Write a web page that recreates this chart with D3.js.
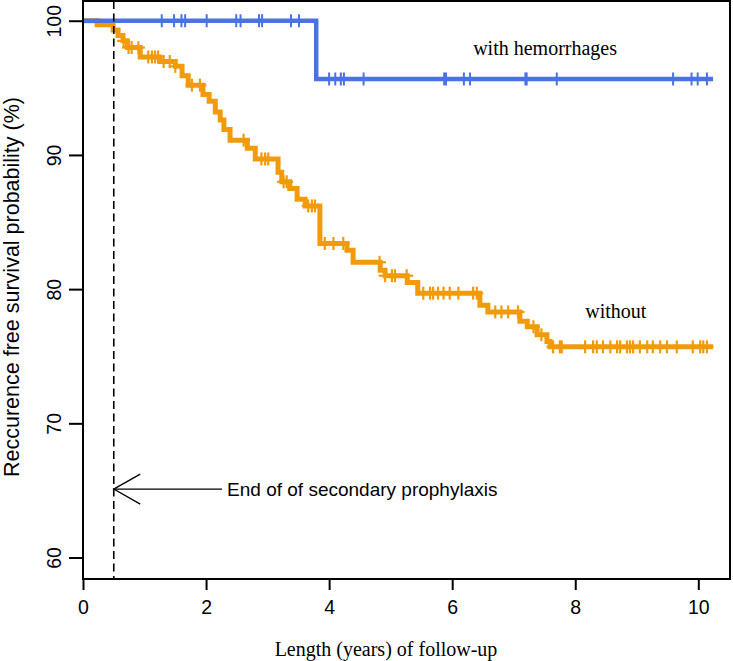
<!DOCTYPE html>
<html>
<head>
<meta charset="utf-8">
<script src="https://cdn.jsdelivr.net/npm/d3@7"></script>
<style>
  html, body { margin: 0; padding: 0; background: #fff; }
  svg { display: block; }
</style>
</head>
<body>
<svg id="chart" width="733" height="661"></svg>
<script>
// ---------- data ----------
const xTicks = [0, 2, 4, 6, 8, 10];
const yTicks = [60, 70, 80, 90, 100];

// "without" group (orange): step start times (years) and survival (%)
const orangeTimes = [0, 0.23, 0.49, 0.57, 0.65, 0.72, 0.93, 1.25, 1.50, 1.61, 1.71, 1.95, 2.05, 2.15, 2.23, 2.29, 2.39, 2.67, 2.80, 3.17, 3.23, 3.36, 3.48, 3.61, 3.85, 4.29, 4.39, 4.83, 4.91, 5.27, 5.44, 6.45, 6.58, 7.10, 7.22, 7.38, 7.54, 7.59, 10.24];
const orangeSurv  = [100, 99.7, 99.3, 98.9, 98.5, 98.0, 97.3, 96.96, 96.6, 95.9, 95.2, 94.5, 94.0, 93.2, 92.6, 91.9, 91.1, 90.5, 89.7, 88.7, 88.0, 87.5, 86.7, 86.2, 83.4, 82.9, 82.0, 81.4, 81.0, 80.5, 79.7, 78.8, 78.3, 77.6, 77.2, 76.6, 76.1, 75.7, 75.7];
const orangeCensor = [0.66, 0.74, 0.79, 0.90, 1.06, 1.12, 1.17, 1.22, 1.31, 1.41, 1.50, 1.77, 1.90, 2.61, 2.90, 2.96, 3.01, 3.26, 3.31, 3.66, 3.72, 3.77, 3.93, 4.07, 4.23, 4.82, 4.91, 5.02, 5.07, 5.26, 5.53, 5.64, 5.69, 5.77, 5.86, 5.96, 6.10, 6.34, 6.40, 6.70, 6.80, 6.91, 7.07, 7.32, 7.45, 7.64, 7.75, 7.78, 8.16, 8.29, 8.35, 8.45, 8.57, 8.68, 8.73, 8.84, 8.89, 8.94, 9.05, 9.17, 9.26, 9.38, 9.49, 9.65, 9.91, 10.03, 10.08, 10.14];

// "with hemorrhages" group (blue)
const blueTimes = [0, 3.79, 10.24];
const blueSurv  = [100, 95.66, 95.66];
const blueCensor = [1.28, 1.48, 1.60, 1.66, 2.01, 2.49, 2.56, 2.86, 2.91, 3.38, 3.51, 4.00, 4.10, 4.19, 4.24, 4.56, 5.87, 5.90, 6.19, 6.29, 7.19, 7.21, 7.70, 9.59, 9.89, 9.99, 10.14];

// annotation (data coordinates)
const prophylaxisEnd = 0.5;
const arrowY = 65.1;
const arrowTail = 2.26;
const labels = [
  { text: "with hemorrhages", x: 7.51, y: 97.45 },
  { text: "without", x: 8.66, y: 77.85 }
];

// ---------- layout ----------
const svg = d3.select("#chart");
const pLeft = 83, pRight = 730, pTop = 1, pBottom = 579;
const x = d3.scaleLinear().domain([0, 10.515]).range([pLeft, pRight]);
const y = d3.scaleLinear().domain([58.4, 101.47]).range([pBottom, pTop]);

const ORANGE = "#F19B0A";
const BLUE = "#4A72E3";

function stepValue(times, surv, t) {
  let v = surv[0];
  for (let i = 0; i < times.length; i++) { if (times[i] <= t) v = surv[i]; }
  return v;
}

const line = d3.line().x(d => x(d[0])).y(d => y(d[1])).curve(d3.curveStepAfter);

// orange curve
svg.append("path")
  .datum(orangeTimes.map((t, i) => [t, orangeSurv[i]]))
  .attr("d", line)
  .attr("fill", "none").attr("stroke", ORANGE).attr("stroke-width", 5);

const oc = svg.append("g").attr("stroke", ORANGE).attr("stroke-width", 2.2);
orangeCensor.forEach(t => {
  const cx = x(t), cy = y(stepValue(orangeTimes, orangeSurv, t));
  oc.append("line").attr("x1", cx).attr("x2", cx).attr("y1", cy - 6.5).attr("y2", cy + 6.5);
  oc.append("line").attr("x1", cx - 6.5).attr("x2", cx + 6.5).attr("y1", cy).attr("y2", cy);
});

// blue curve
svg.append("path")
  .datum(blueTimes.map((t, i) => [t, blueSurv[i]]))
  .attr("d", line)
  .attr("fill", "none").attr("stroke", BLUE).attr("stroke-width", 4.5);

const bc = svg.append("g").attr("stroke", BLUE).attr("stroke-width", 2);
blueCensor.forEach(t => {
  const cx = x(t), cy = y(stepValue(blueTimes, blueSurv, t));
  bc.append("line").attr("x1", cx).attr("x2", cx).attr("y1", cy - 6.5).attr("y2", cy + 6.5);
});

// dashed vertical line
svg.append("line")
  .attr("x1", x(prophylaxisEnd)).attr("x2", x(prophylaxisEnd))
  .attr("y1", pTop).attr("y2", pBottom)
  .attr("stroke", "#000").attr("stroke-width", 1.6).attr("stroke-dasharray", "8,4.5");

// box
svg.append("rect")
  .attr("x", pLeft).attr("y", pTop).attr("width", pRight - pLeft).attr("height", pBottom - pTop)
  .attr("fill", "none").attr("stroke", "#000").attr("stroke-width", 2);

// x axis
const xAxis = svg.append("g")
  .attr("transform", `translate(0,${pBottom})`)
  .call(d3.axisBottom(x).tickValues(xTicks).tickSize(11).tickPadding(10).tickFormat(d3.format("d")));
xAxis.select(".domain").remove();
xAxis.selectAll("line").attr("stroke-width", 2);
xAxis.selectAll("text").attr("font-family", "Arial, 'Liberation Sans', sans-serif").attr("font-size", 19.5).attr("fill", "#000");

// y axis
const yAxis = svg.append("g")
  .attr("transform", `translate(${pLeft},0)`)
  .call(d3.axisLeft(y).tickValues(yTicks).tickSize(14).tickFormat(d3.format("d")));
yAxis.select(".domain").remove();
yAxis.selectAll("line").attr("stroke-width", 2);
yAxis.selectAll("text")
  .attr("transform", "rotate(-90)")
  .attr("x", 0).attr("y", -22.5).attr("dy", 0)
  .attr("text-anchor", "middle")
  .attr("font-family", "Arial, 'Liberation Sans', sans-serif").attr("font-size", 19.5).attr("fill", "#000");

// axis titles
svg.append("text")
  .attr("transform", `translate(19,287) rotate(-90)`)
  .attr("text-anchor", "middle")
  .attr("font-family", "Arial, 'Liberation Sans', sans-serif").attr("font-size", 21.5)
  .text("Reccurence free survival probability (%)");

svg.append("text")
  .attr("x", 386).attr("y", 656)
  .attr("text-anchor", "middle")
  .attr("font-family", "'Liberation Serif', serif").attr("font-size", 20)
  .text("Length (years) of follow-up");

// curve labels
svg.selectAll(".lbl").data(labels).enter().append("text")
  .attr("x", d => x(d.x)).attr("y", d => y(d.y))
  .attr("text-anchor", "middle")
  .attr("font-family", "'Liberation Serif', serif").attr("font-size", 20)
  .text(d => d.text);

// arrow annotation
const ann = svg.append("g").attr("stroke", "#000").attr("stroke-width", 1.3).attr("fill", "none");
ann.append("line").attr("x1", x(prophylaxisEnd)).attr("x2", x(arrowTail)).attr("y1", y(arrowY)).attr("y2", y(arrowY));
ann.append("path").attr("d", `M${x(prophylaxisEnd) + 26.5},${y(arrowY) - 15} L${x(prophylaxisEnd)},${y(arrowY)} L${x(prophylaxisEnd) + 26.5},${y(arrowY) + 15}`);
svg.append("text")
  .attr("x", x(arrowTail) + 5).attr("y", y(arrowY)).attr("dy", "0.35em")
  .attr("font-family", "Arial, 'Liberation Sans', sans-serif").attr("font-size", 19)
  .text("End of of secondary prophylaxis");
</script>
</body>
</html>
